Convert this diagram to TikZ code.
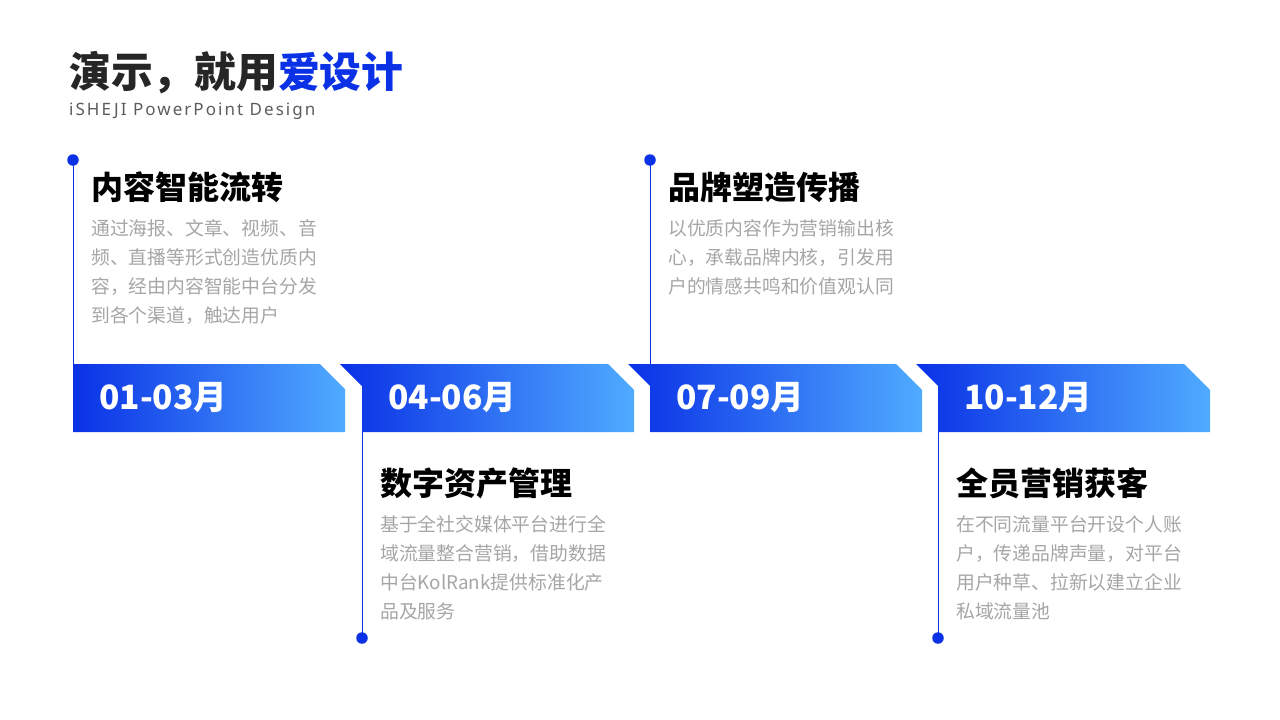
\documentclass[tikz,border=0pt]{standalone}
\usepackage{fontspec}
\setmainfont{Noto Sans CJK SC}
\newfontfamily\subfont[LetterSpace=12]{Noto Sans}
\usetikzlibrary{positioning}
\definecolor{mainblue}{HTML}{0A31E6}
\definecolor{midblue}{HTML}{3A84F4}
\definecolor{lightblue}{HTML}{50ABFF}
\definecolor{descgray}{HTML}{A6A6A6}
\definecolor{titledark}{HTML}{262626}
\tikzset{
  x=1pt, y=-1pt,
  banner/.style={left color=mainblue, middle color=midblue, right color=lightblue, draw=none},
  datetext/.style={anchor=west, text=white, font=\fontsize{33.5}{38}\selectfont\bfseries, inner sep=0pt},
  heading/.style={anchor=west, text=black, font=\fontsize{32}{36}\selectfont\bfseries, inner sep=0pt},
  desc/.style={anchor=north west, text=descgray, font=\fontsize{18.8}{29}\selectfont, align=left, inner sep=0pt},
  vline/.style={draw=mainblue, line width=1pt},
  dot/.style={circle, fill=mainblue, minimum size=11.5pt, inner sep=0pt},
}
\begin{document}
\begin{tikzpicture}
\useasboundingbox[fill=white] (0,0) rectangle (1280,720);
% title
\node[anchor=west, inner sep=0pt, font=\fontsize{41.8}{44}\selectfont\bfseries] (title) at (69,73) {\textcolor{titledark}{演示，就用}\textcolor{mainblue}{爱设计}};
\node[anchor=base west, inner sep=0pt, text=titledark!75, font=\subfont\fontsize{17}{20}\selectfont] (subtitle) at (69,115) {iSHEJI PowerPoint Design};

% banners
\shade[banner] (73,364) -- (320,364) -- (345,389) -- (345,432) -- (73,432) -- cycle;
\shade[banner] (340,364) -- (608,364) -- (634,390) -- (634,432) -- (362,432) -- (362,386) -- cycle;
\shade[banner] (628,364) -- (896,364) -- (922,390) -- (922,432) -- (650,432) -- (650,386) -- cycle;
\shade[banner] (916,364) -- (1184,364) -- (1210,390) -- (1210,432) -- (938,432) -- (938,386) -- cycle;

\node[datetext] (d1) at (99,398) {01-03月};
\node[datetext] (d2) at (388,398) {04-06月};
\node[datetext] (d3) at (676,398) {07-09月};
\node[datetext] (d4) at (964,398) {10-12月};

% timeline markers
\node[dot] (p1) at (73,160) {};
\coordinate (b1) at (73,364);
\draw[vline] (p1.center) -- (b1);
\node[dot] (p2) at (362,638) {};
\coordinate (b2) at (362,432);
\draw[vline] (b2) -- (p2.center);
\node[dot] (p3) at (650,160) {};
\coordinate (b3) at (650,364);
\draw[vline] (p3.center) -- (b3);
\node[dot] (p4) at (938,638) {};
\coordinate (b4) at (938,432);
\draw[vline] (b4) -- (p4.center);

% headings
\node[heading] (h1) at (91,187) {内容智能流转};
\node[heading] (h2) at (380,483) {数字资产管理};
\node[heading] (h3) at (668,187) {品牌塑造传播};
\node[heading] (h4) at (956,483) {全员营销获客};

% descriptions
\node[desc] (t1) at (91,219) {通过海报、文章、视频、音\\频、直播等形式创造优质内\\容，经由内容智能中台分发\\到各个渠道，触达用户};
\node[desc] (t2) at (380,515) {基于全社交媒体平台进行全\\域流量整合营销，借助数据\\中台KolRank提供标准化产\\品及服务};
\node[desc] (t3) at (668,219) {以优质内容作为营销输出核\\心，承载品牌内核，引发用\\户的情感共鸣和价值观认同};
\node[desc] (t4) at (956,515) {在不同流量平台开设个人账\\户，传递品牌声量，对平台\\用户种草、拉新以建立企业\\私域流量池};
\end{tikzpicture}
\end{document}
